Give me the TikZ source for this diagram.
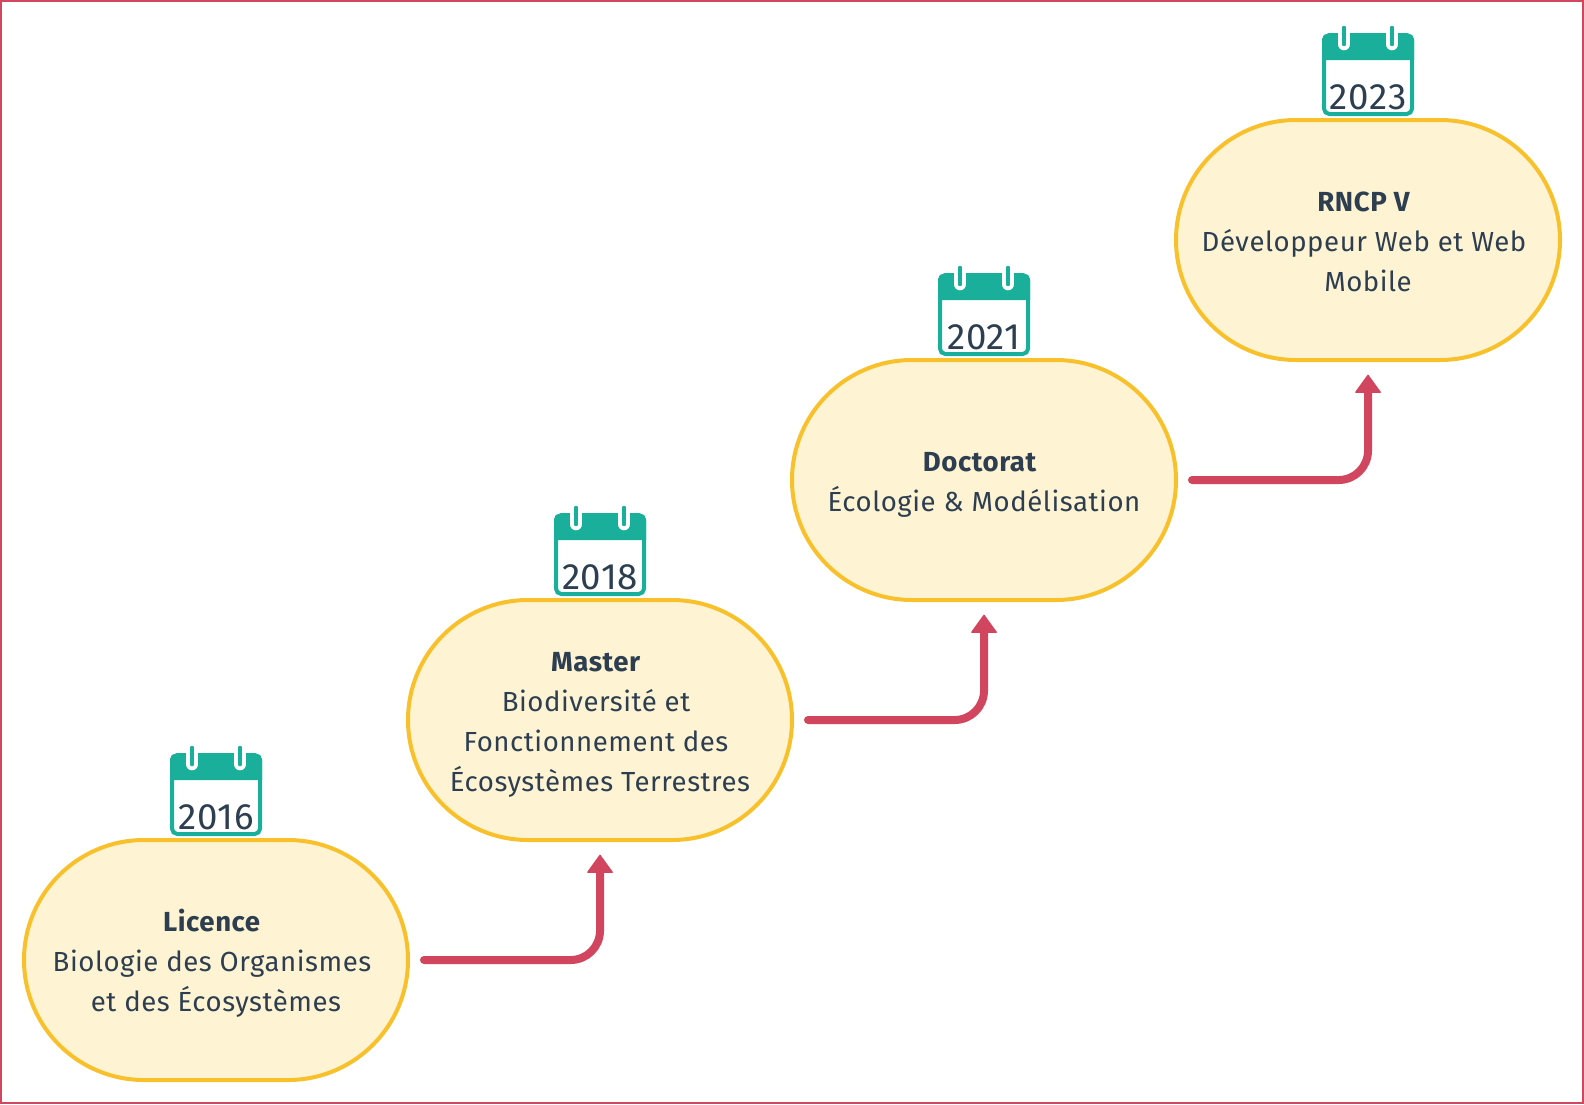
\documentclass[tikz,border=0pt]{standalone}
\usepackage{fontspec}
\setmainfont{Fira Sans}[LetterSpace=2]
\usetikzlibrary{arrows.meta}
\definecolor{edge}{HTML}{D2455E}
\definecolor{teal1}{HTML}{1AAF9B}
\definecolor{gold}{HTML}{F8C12C}
\definecolor{cream}{HTML}{FEF3D2}
\definecolor{ink}{HTML}{2C3E50}
\newcommand{\trl}{\hbox to 6pt{}}
\newcommand{\lead}{\rule{0pt}{22pt}}
\newcommand{\leadup}{\rule{0pt}{17.5pt}}
\tikzset{
 x=.75pt,y=-.75pt,
 stage/.style={draw=gold,fill=cream,line width=3pt,rounded corners=90pt,minimum width=288pt,minimum height=180pt,inner sep=0pt,outer sep=0pt,align=center,text=ink,font=\fontsize{20.7pt}{30pt}\selectfont},
 flow/.style={draw=edge,line width=6pt,line cap=round,rounded corners=22pt,-{Triangle[length=14pt,width=20pt,round,line width=1pt]},shorten <=12pt,shorten >=11pt},
 calbody/.style={draw=teal1,fill=white,line width=3pt,rounded corners=4pt},
 calhead/.style={fill=teal1,rounded corners=4pt},
 ringa/.style={draw=white,line width=9.5pt,line cap=round},
 ringb/.style={draw=teal1,line width=3.5pt,line cap=round},
 year/.style={text=ink,inner sep=0pt,font=\fontsize{27.5pt}{30pt}\selectfont},
}
\newcommand{\calicon}[4]{%
 \draw[calbody] (#2-44,#3-205) rectangle (#2+44,#3-126);
 \fill[calhead] (#2-46,#3-180) [sharp corners] -- (#2-46,#3-190) [rounded corners=4pt] -- (#2-46,#3-206) -- (#2+46,#3-206) -- (#2+46,#3-190) [sharp corners] -- (#2+46,#3-180) -- cycle;
 \draw[ringa] (#2-24,#3-206) -- (#2-24,#3-196);
 \draw[ringa] (#2+24,#3-206) -- (#2+24,#3-196);
 \draw[ringb] (#2-24,#3-212) -- (#2-24,#3-196);
 \draw[ringb] (#2+24,#3-212) -- (#2+24,#3-196);
 \node[year] (#1) at (#2,#3-143) {#4};
}
\begin{document}
\begin{tikzpicture}
\useasboundingbox (0,0) rectangle (1584,1104);
\draw[edge,line width=2.2pt] (1,1) rectangle (1583,1103);
\node[stage] (licence) at (216,960) {\lead\textbf{Licence}\trl\\Biologie des Organismes\trl\\et des Écosystèmes};
\node[stage] (master) at (600,720) {\lead\textbf{Master}\trl\\Biodiversité et\trl\\Fonctionnement des\trl\\Écosystèmes Terrestres};
\node[stage] (doctorat) at (984,480) {\lead\textbf{Doctorat}\trl\\Écologie \& Modélisation};
\node[stage] (rncp) at (1368,240) {\leadup\textbf{RNCP V}\trl\\Développeur Web et Web\trl\\Mobile};
\calicon{y2016}{216}{960}{2016}
\calicon{y2018}{600}{720}{2018}
\calicon{y2021}{984}{480}{2021}
\calicon{y2023}{1368}{240}{2023}
\draw[flow] (licence.east) -| (master.south);
\draw[flow] (master.east) -| (doctorat.south);
\draw[flow] (doctorat.east) -| (rncp.south);
\end{tikzpicture}
\end{document}
